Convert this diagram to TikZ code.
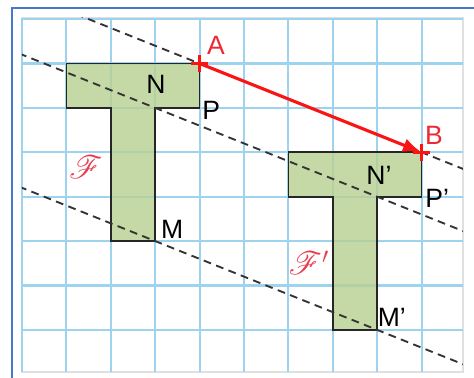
\documentclass[tikz,border=0pt]{standalone}
\usepackage{fontspec}
\setmainfont{Liberation Sans}
\usepackage{mathrsfs}
\usepackage{xcolor}
\usetikzlibrary{arrows.meta}
\definecolor{gridblue}{RGB}{158,211,240}
\definecolor{figgreen}{RGB}{183,208,146}
\definecolor{vecred}{RGB}{250,20,20}
\definecolor{lblred}{RGB}{238,40,50}
\definecolor{scrred}{RGB}{232,60,80}
\definecolor{frameblue}{RGB}{70,120,200}

\begin{document}
\begin{tikzpicture}[
  gridline/.style={gridblue, line width=1.3pt},
  figure/.style={draw=black!85, line width=1.1pt, fill=figgreen, fill opacity=0.8},
  guide/.style={black!80, line width=1.2pt, dash pattern=on 5pt off 3.5pt},
  pt/.style={font=\fontsize{17}{20}\selectfont, inner sep=0pt},
  ptred/.style={pt, text=lblred},
  scr/.style={text=scrred, font=\fontsize{20}{24}\selectfont, inner sep=0pt},
  cross/.style={vecred, line width=1.8pt}
]
  \clip (-0.495,-1.08) rectangle (10.18,7.43);
  \fill[white] (-0.495,-1.08) rectangle (10.18,7.43);
  \draw[frameblue, line width=1.5pt] (-0.225,-1.3) -- (-0.225,7.25) -- (10.4,7.25);
  \draw[black!12, line width=1pt] (0,-0.95) rectangle (9.93,7.03);
  \draw[gridline] (0,-0.95) grid (9.93,7.03);

  \coordinate (A) at (4,6);
  \coordinate (N) at (3,5);
  \coordinate (P) at (4,5);
  \coordinate (M) at (3,2);
  \coordinate (B) at (9,4);
  \coordinate (N') at (8,3);
  \coordinate (P') at (9,3);
  \coordinate (M') at (8,0);

  \draw[figure] (1,6) -- (A) -- (P) -- (N) -- (M) -- (2,2) -- (2,5) -- (1,5) -- cycle;
  \draw[figure] (6,4) -- (B) -- (P') -- (N') -- (M') -- (7,0) -- (7,3) -- (6,3) -- cycle;

  \begin{scope}
    \clip (0,-0.95) rectangle (9.93,7.03);
    \draw[guide] (A) ++(-10,4) -- ++(20,-8);
    \draw[guide] (N) ++(-10,4) -- ++(20,-8);
    \draw[guide] (M) ++(-10,4) -- ++(20,-8);
  \end{scope}

  \draw[vecred, line width=2pt, -{Latex[length=12pt,width=9pt]}] (A) -- (B);
  \foreach \p in {A,B}
    \draw[cross] ([xshift=-5.5pt]\p) -- ([xshift=5.5pt]\p) ([yshift=-5.5pt]\p) -- ([yshift=5.5pt]\p);

  \node[ptred] (labA) at (4.37,6.40) {A};
  \node[ptred] (labB) at (9.28,4.39) {B};
  \node[pt] (labN) at (3.02,5.52) {N};
  \node[pt] (labP) at (4.26,4.95) {P};
  \node[pt] (labM) at (3.38,2.27) {M};
  \node[pt] (labN') at (8.04,3.49) {N’};
  \node[pt] (labP') at (9.35,2.97) {P’};
  \node[pt] (labM') at (8.33,0.29) {M’};
  \node[scr] (labF) at (1.44,3.67) {$\mathscr{F}$};
  \node[scr] (labF') at (6.46,1.51) {$\mathscr{F}'$};
\end{tikzpicture}
\end{document}
